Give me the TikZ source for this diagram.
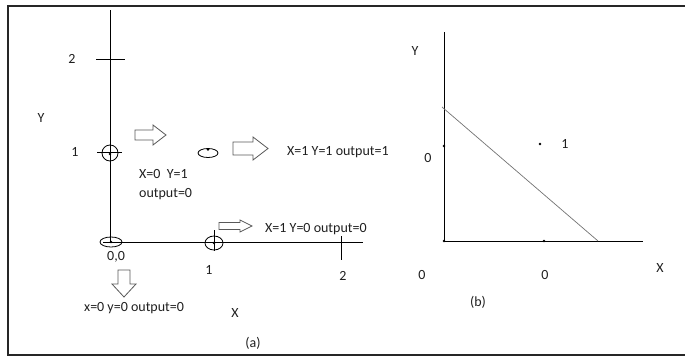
\documentclass[tikz,border=0pt]{standalone}
\usepackage{fontspec}
\setmainfont{Carlito}
\begin{document}
\begin{tikzpicture}[x=1pt,y=-1pt,
  lbl/.style={inner sep=0pt,text=black!88,font=\fontsize{14}{16}\selectfont},
  axis/.style={line width=1pt,black},
  barrow/.style={draw=black!65,line width=0.8pt,fill=white},
  dotm/.style={circle,fill=black,inner sep=0pt,minimum size=2.8pt}]
\useasboundingbox (0,0) rectangle (685,356);
% frame
\draw[line width=2.2pt,black!85] (690,6) -- (8,6) -- (8,355) -- (690,355);
% ----- panel (a) -----
\coordinate (ytop) at (110,10);
\coordinate (o) at (110,242);
\coordinate (xend) at (363,242);
\draw[axis] (ytop) -- (o);
\draw[axis] (103,242) -- (xend);
% ticks
\draw[axis] (96,59) -- (125,59);
\draw[axis] (97,152) -- (122,152);
\draw[axis] (214,230) -- (214,251);
\draw[axis] (341,236) -- (341,260);
% markers
\draw[line width=0.8pt] (110,153) circle (8);
\node[dotm] (p01) at (110,154) {};
\draw[line width=0.8pt] (111,242) ellipse (11 and 5);
\node[dotm] (p00) at (111,242) {};
\draw[line width=0.8pt] (214,243) ellipse (9 and 7);
\node[dotm] (p10) at (214,243) {};
\draw[line width=0.8pt] (208,153) ellipse (10 and 4.5);
\node[dotm] (p11) at (208,149.5) {};
% block arrows
\draw[barrow] (135,130) -- (153,130) -- (153,125) -- (166,135) -- (153,145) -- (153,140) -- (135,140) -- cycle;
\draw[barrow] (233,142) -- (253,142) -- (253,137) -- (268,148.5) -- (253,160) -- (253,155) -- (233,155) -- cycle;
\draw[barrow] (219,222.5) -- (240,222.5) -- (240,220) -- (252,226) -- (240,232) -- (240,229.5) -- (219,229.5) -- cycle;
\draw[barrow] (118,270) -- (130,270) -- (130,284) -- (136,284) -- (124,297) -- (112,284) -- (118,284) -- cycle;
% labels
\node[lbl] (l2) at (72,59) {2};
\node[lbl] (ly) at (41,118) {Y};
\node[lbl] (l1) at (75,152) {1};
\node[lbl,anchor=west] (t11) at (287,152) {X=1 Y=1 output=1};
\node[lbl,anchor=west] (t01a) at (139,174) {X=0\ \ Y=1};
\node[lbl,anchor=west] (t01b) at (139,194) {output=0};
\node[lbl,anchor=west] (t10) at (265,229) {X=1 Y=0 output=0};
\node[lbl] (l00) at (116,257) {0,0};
\node[lbl] (lx1) at (209,270) {1};
\node[lbl] (lx2) at (343,276) {2};
\node[lbl,anchor=west] (t00) at (84,308) {x=0 y=0 output=0};
\node[lbl] (lx) at (235,313) {X};
\node[lbl] (la) at (253,343) {(a)};
% ----- panel (b) -----
\draw[axis] (444,32) -- (444,241) -- (643,241);
\draw[line width=0.7pt,black!55] (442,107) -- (598,241);
\node[dotm] (b01) at (444,146) {};
\node[dotm] (b11) at (540,144) {};
\node[dotm] (b00) at (444,241) {};
\node[dotm] (b10) at (544,241) {};
\node[lbl] (by) at (415,51) {Y};
\node[lbl] (b1) at (565,144) {1};
\node[lbl] (b0y) at (428,158) {0};
\node[lbl] (b0a) at (422,275) {0};
\node[lbl] (b0b) at (545,275) {0};
\node[lbl] (bx) at (660,268) {X};
\node[lbl] (lb) at (478,302) {(b)};
\end{tikzpicture}
\end{document}
